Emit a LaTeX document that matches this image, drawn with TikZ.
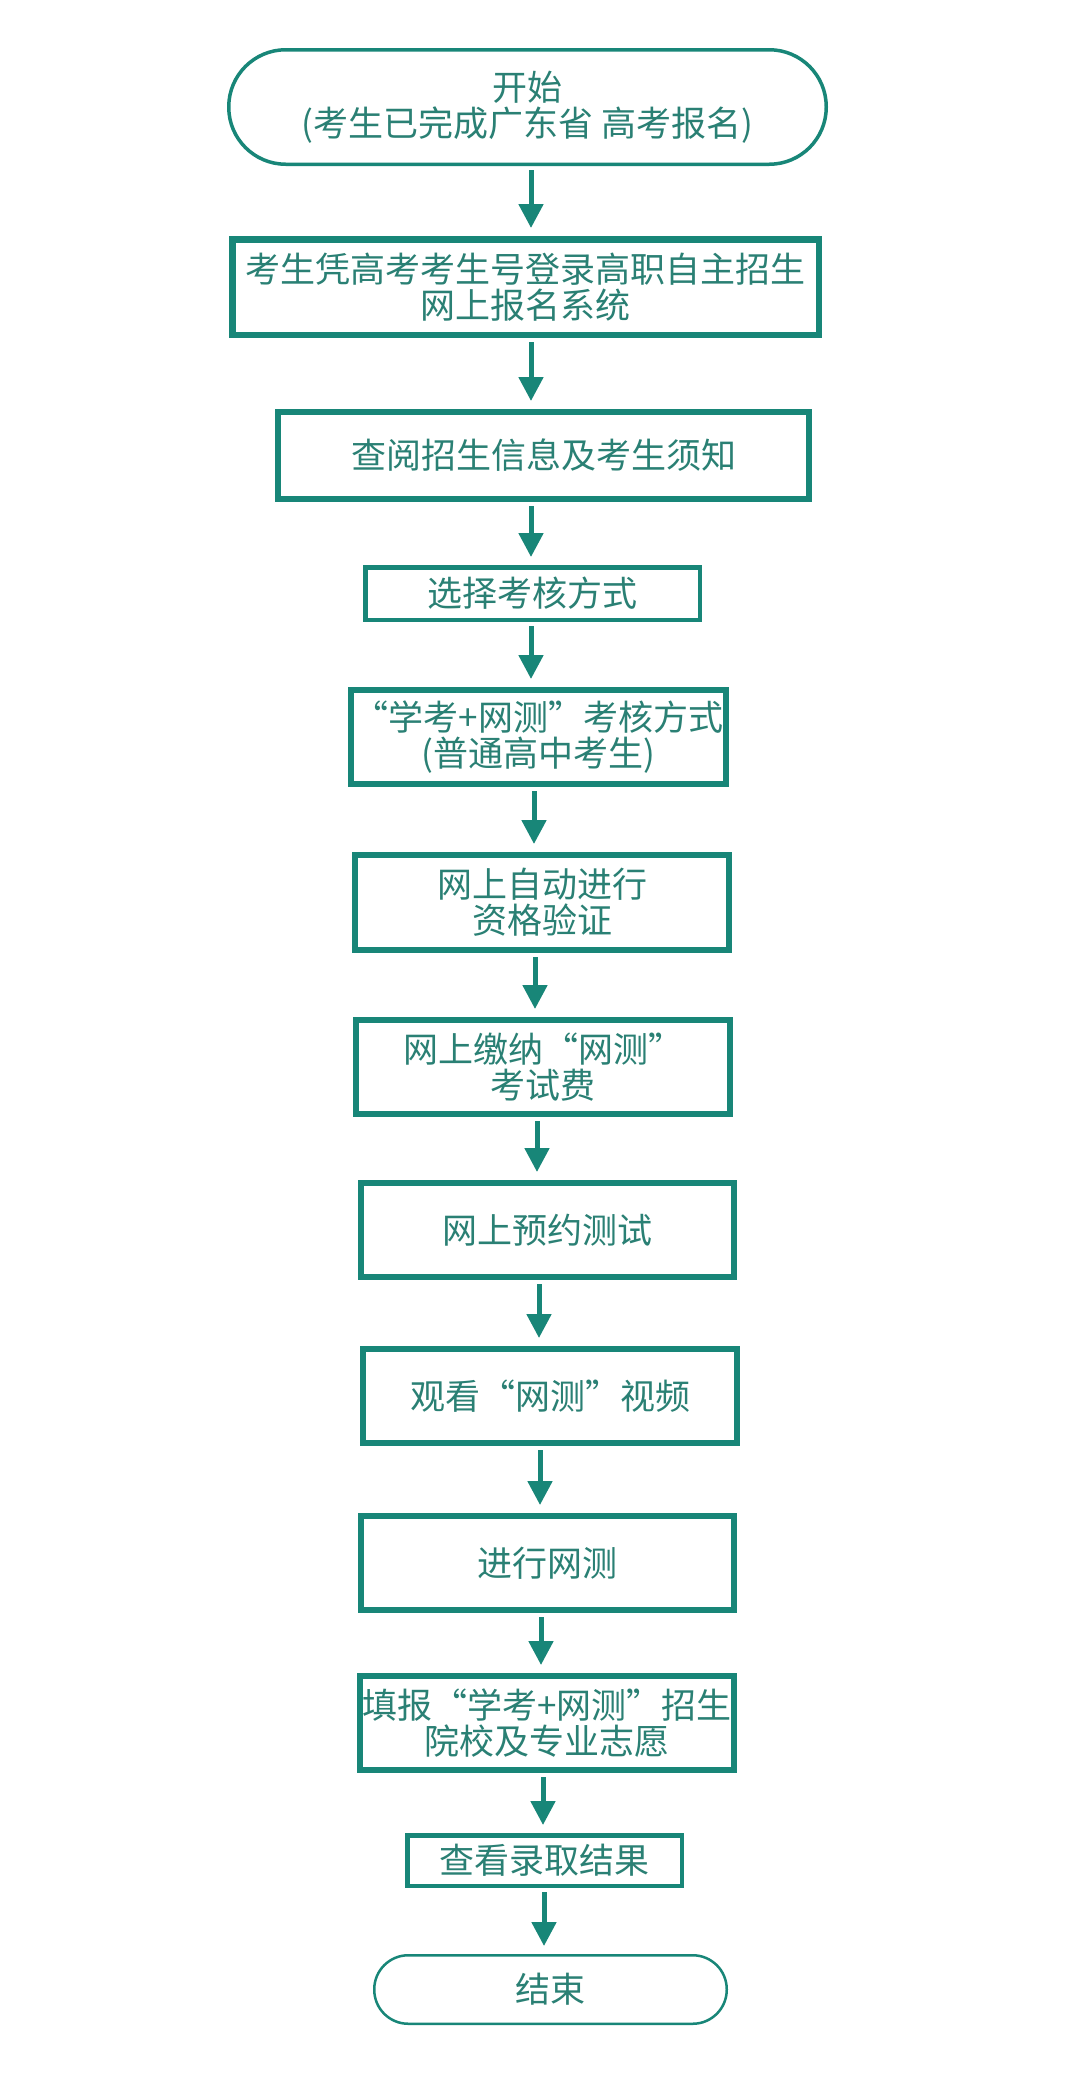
\documentclass[tikz,border=0pt]{standalone}
\usepackage{fontspec}
\setmainfont{Noto Sans CJK SC}
\usetikzlibrary{arrows.meta}
\definecolor{tealline}{RGB}{24,134,120}
\definecolor{tealtext}{RGB}{42,128,116}
\begin{document}
\begin{tikzpicture}[x=1pt,y=-1pt,
  box/.style={draw=tealline, text=tealtext, inner sep=0pt, align=center,
    font=\fontsize{35}{36}\selectfont},
  thickbox/.style={box, line width=6pt},
  thinbox/.style={box, line width=4.5pt},
  term/.style={box},
  arr/.style={draw=tealline, line width=5pt, -{Triangle[width=24pt,length=24pt]},
    shorten <=4pt, shorten >=8pt}]
\fill[white] (0,0) rectangle (1080,2075);
\useasboundingbox (0,0) rectangle (1080,2075);

\node[term, line width=3.5pt, rounded corners=57pt, minimum width=597.5pt, minimum height=114.5pt]
  (start) at (527.5,107) {开始\\(考生已完成广东省 高考报名)};
\node[thickbox, line width=6.5pt, minimum width=586.5pt, minimum height=95.5pt]
  (b2) at (525.5,287) {考生凭高考考生号登录高职自主招生\\网上报名系统};
\node[thickbox, minimum width=531pt, minimum height=87pt]
  (b3) at (543.5,455.5) {查阅招生信息及考生须知};
\node[thinbox, minimum width=334.5pt, minimum height=52.5pt]
  (b4) at (532.5,593.5) {选择考核方式};
\node[thickbox, minimum width=375pt, minimum height=94pt]
  (b5) at (538.5,737) {“学考+网测”考核方式\\(普通高中考生)};
\node[thickbox, minimum width=374pt, minimum height=95pt]
  (b6) at (542,902.5) {网上自动进行\\资格验证};
\node[thickbox, minimum width=374pt, minimum height=94pt]
  (b7) at (543,1067) {网上缴纳“网测”\\考试费};
\node[thickbox, minimum width=373pt, minimum height=94pt]
  (b8) at (547.5,1230) {网上预约测试};
\node[thickbox, minimum width=374pt, minimum height=94pt]
  (b9) at (550,1396) {观看“网测”视频};
\node[thickbox, minimum width=373pt, minimum height=94pt]
  (b10) at (547.5,1563) {进行网测};
\node[thickbox, minimum width=374pt, minimum height=94pt]
  (b11) at (547,1723) {填报“学考+网测”招生\\院校及专业志愿};
\node[thinbox, minimum width=274.5pt, minimum height=50.5pt]
  (b12) at (544.5,1860.5) {查看录取结果};
\node[term, line width=2.5pt, rounded corners=34pt, minimum width=352.5pt, minimum height=68.5pt]
  (end) at (550.5,1989.5) {结束};

\coordinate (x1) at (531,0);
\coordinate (x2) at (531,0);
\coordinate (x3) at (531,0);
\coordinate (x4) at (531,0);
\coordinate (x5) at (534,0);
\coordinate (x6) at (535,0);
\coordinate (x7) at (537,0);
\coordinate (x8) at (539,0);
\coordinate (x9) at (540,0);
\coordinate (x10) at (541,0);
\coordinate (x11) at (543,0);
\coordinate (x12) at (544,0);

\draw[arr] (start.south -| x1) -- (b2.north -| x1);
\draw[arr] (b2.south -| x2) -- (b3.north -| x2);
\draw[arr] (b3.south -| x3) -- (b4.north -| x3);
\draw[arr] (b4.south -| x4) -- (b5.north -| x4);
\draw[arr] (b5.south -| x5) -- (b6.north -| x5);
\draw[arr] (b6.south -| x6) -- (b7.north -| x6);
\draw[arr] (b7.south -| x7) -- (b8.north -| x7);
\draw[arr] (b8.south -| x8) -- (b9.north -| x8);
\draw[arr] (b9.south -| x9) -- (b10.north -| x9);
\draw[arr] (b10.south -| x10) -- (b11.north -| x10);
\draw[arr] (b11.south -| x11) -- (b12.north -| x11);
\draw[arr] (b12.south -| x12) -- (end.north -| x12);
\end{tikzpicture}
\end{document}
